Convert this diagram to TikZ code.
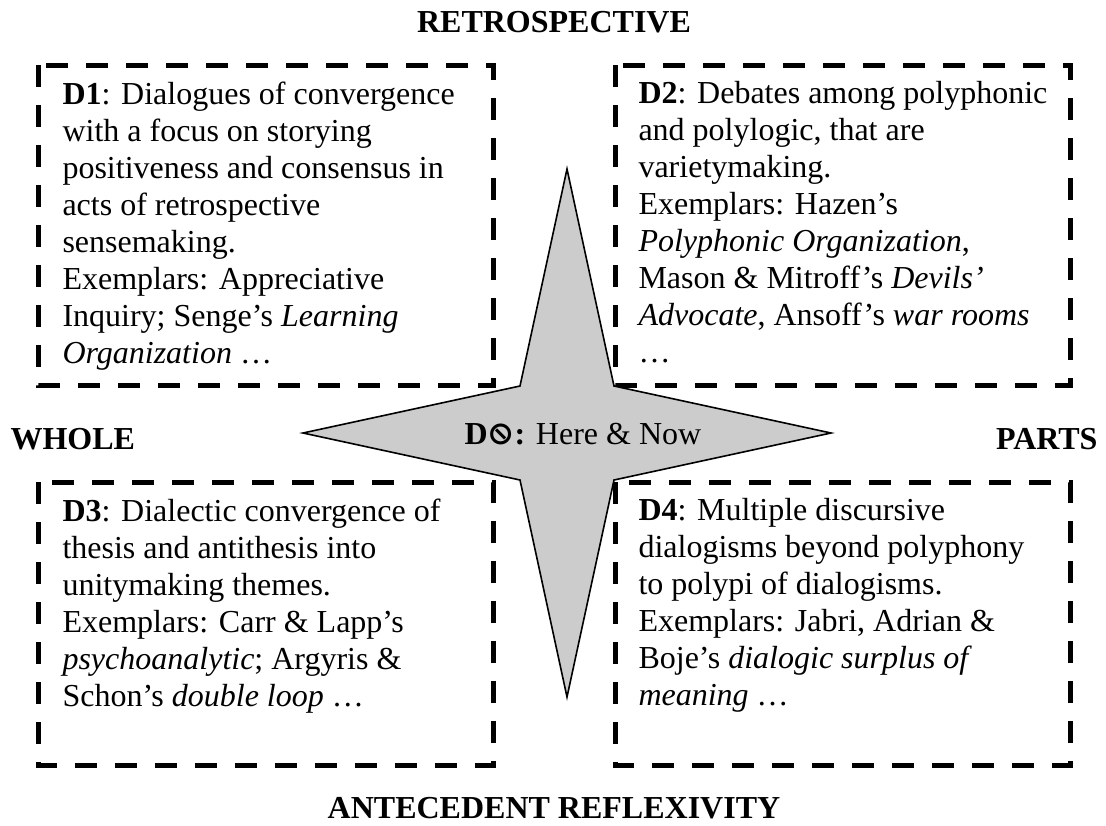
\documentclass[tikz,border=0pt]{standalone}
\usepackage{fontspec}
\usepackage{graphicx}
\setmainfont{Liberation Serif}
\newfontfamily\symfont{DejaVu Sans}
\tikzset{
  qbox/.style={draw=black, line width=1.875pt, dash pattern=on 8.25pt off 6.75pt},
  qtext/.style={anchor=north west, align=left, inner sep=0pt, font=\fontsize{12}{13.875}\selectfont},
  heading/.style={font=\fontsize{12}{14}\selectfont\bfseries, inner sep=0pt, anchor=base},
  starshape/.style={draw=black, line width=0.6pt, fill=black!20, line join=miter}
}
\begin{document}
\begin{tikzpicture}[x=0.375pt,y=-0.375pt]
\useasboundingbox (0,0) rectangle (1106,825);
% boxes
\draw[qbox] (38,65) rectangle (493,385);
\draw[qbox] (615,65) rectangle (1070,385);
\draw[qbox] (38,482) rectangle (493,765);
\draw[qbox] (615,482) rectangle (1070,765);
% star
\draw[starshape] (567,169) -- (614,386) -- (831,433) -- (614,480) -- (567,697) -- (520,480) -- (303,433) -- (520,386) -- cycle;
\node[qtext, anchor=base] (d0) at (583,444) {\textbf{D\raisebox{0pt}{\reflectbox{\symfont\bfseries ⊘}}:} Here \& Now};
% headings
\node[heading] (retro) at (554,32) {RETROSPECTIVE};
\node[heading] (ante) at (554,818) {ANTECEDENT REFLEXIVITY};
\node[heading, anchor=base west] (whole) at (10,449) {WHOLE};
\node[heading, anchor=base east] (parts) at (1098,449) {PARTS};
% texts
\node[qtext] (d1) at (62,81) {\textbf{D1}: Dialogues of convergence\\
with a focus on storying\\
positiveness and consensus in\\
acts of retrospective\\
sensemaking.\\
Exemplars: Appreciative\\
Inquiry; Senge’s \textit{Learning}\\
\textit{Organization} …};
\node[qtext] (d2) at (638,81) {\textbf{D2}: Debates among polyphonic\\
and polylogic, that are\\
varietymaking.\\
Exemplars: Hazen’s\\
\textit{Polyphonic Organization},\\
Mason \& Mitroff’s \textit{Devils’}\\
\textit{Advocate}, Ansoff’s \textit{war rooms}\\
…};
\node[qtext] (d3) at (62,498) {\textbf{D3}: Dialectic convergence of\\
thesis and antithesis into\\
unitymaking themes.\\
Exemplars: Carr \& Lapp’s\\
\textit{psychoanalytic}; Argyris \&\\
Schon’s \textit{double loop} …};
\node[qtext] (d4) at (638,498) {\textbf{D4}: Multiple discursive\\
dialogisms beyond polyphony\\
to polypi of dialogisms.\\
Exemplars: Jabri, Adrian \&\\
Boje’s \textit{dialogic surplus of}\\
\textit{meaning} …};
\end{tikzpicture}
\end{document}
